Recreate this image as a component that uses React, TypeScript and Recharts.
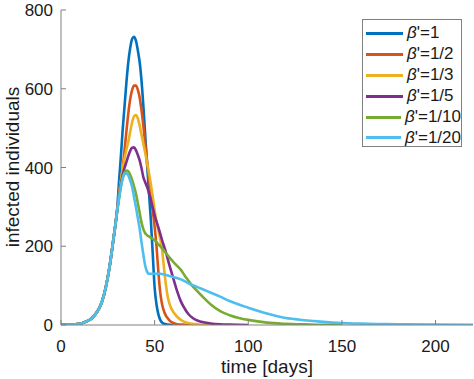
import { LineChart, Line, XAxis, YAxis, Label } from "recharts";

type Pt = [number, number];

// shared early growth (all runs identical until ~day 30)
const rise: Pt[] = [
  [0, 0], [4, 1], [8, 2], [10, 3], [12, 6], [14, 10], [16, 15], [18, 25],
  [20, 39], [22, 61], [24, 98], [26, 150], [28, 218], [29, 253],
];

const beta1: Pt[] = [
  [30, 295], [31, 365], [32, 430], [33, 500], [34, 560], [35, 620], [36, 670], [37, 705],
  [38, 727], [39, 732], [40, 722], [41, 698], [42, 668], [43, 620], [44, 555], [45, 480],
  [46, 405], [47, 335], [48, 265], [49, 180], [50, 95], [51, 52], [52, 27], [53, 13],
  [54, 6], [55, 3], [57, 1], [60, 0],
];
const beta2: Pt[] = [
  [30, 292], [31, 330], [32, 362], [33, 400], [34, 448], [35, 495], [36, 540], [37, 575],
  [38, 597], [39, 608], [40, 608], [41, 598], [42, 578], [43, 545], [44, 505], [45, 460],
  [46, 415], [47, 372], [48, 330], [49, 290], [50, 250], [51, 200], [52, 135], [53, 82],
  [54, 52], [55, 35], [56, 24], [57, 17], [58, 11], [60, 5], [62, 2], [65, 1], [70, 0],
];
const beta3: Pt[] = [
  [30, 291], [31, 333], [32, 368], [33, 400], [34, 425], [35, 447], [36, 467], [37, 492],
  [38, 515], [39, 530], [40, 533], [41, 525], [42, 507], [43, 483], [44, 460], [45, 436],
  [46, 411], [47, 385], [48, 357], [49, 325], [50, 292], [51, 262], [52, 240], [53, 218],
  [54, 190], [55, 145], [56, 103], [57, 72], [58, 53], [59, 41], [60, 33], [62, 21],
  [64, 13], [66, 8], [70, 3], [75, 1], [80, 0],
];
const beta5: Pt[] = [
  [30, 290], [31, 328], [32, 358], [33, 383], [34, 400], [35, 415], [36, 430], [37, 443],
  [38, 450], [39, 451], [40, 444], [41, 432], [42, 418], [43, 398], [44, 375], [45, 362],
  [46, 350], [47, 335], [48, 318], [49, 298], [50, 278], [52, 248], [54, 215], [56, 185],
  [58, 150], [60, 118], [62, 86], [64, 60], [66, 42], [68, 28], [70, 19], [72, 13],
  [75, 8], [80, 4], [85, 2], [90, 1], [100, 0],
];
const beta10: Pt[] = [
  [30, 290], [31, 322], [32, 352], [33, 375], [34, 388], [35, 392], [36, 390], [37, 381],
  [38, 368], [39, 352], [40, 334], [41, 310], [42, 285], [43, 260], [44, 243], [45, 233],
  [46, 228], [48, 222], [50, 215], [52, 205], [54, 195], [56, 183], [58, 171], [60, 160],
  [62, 150], [64, 140], [66, 126], [68, 113], [70, 100], [72, 90], [75, 75], [80, 52],
  [85, 35], [90, 25], [95, 18], [100, 13], [110, 6], [120, 3], [130, 1.5], [140, 0.5], [150, 0],
];
const beta20: Pt[] = [
  [30, 290], [31, 322], [32, 352], [33, 373], [34, 384], [35, 385], [36, 379], [37, 366],
  [38, 350], [39, 325], [40, 300], [41, 272], [42, 245], [43, 210], [44, 178], [45, 150],
  [46, 135], [47, 130], [50, 130], [53, 130], [56, 127], [60, 122], [64, 116], [68, 106],
  [72, 98], [76, 90], [80, 82], [85, 72], [90, 61], [95, 52], [100, 44], [105, 36],
  [110, 29], [115, 23], [120, 18], [125, 15], [130, 12], [135, 10], [140, 8], [150, 5],
  [160, 3.5], [170, 2.5], [180, 2], [200, 1], [220, 0.5],
];

const names = ["1", "1/2", "1/3", "1/5", "1/10", "1/20"];
const colors = ["#0072BD", "#D95319", "#EDB120", "#7E2F8E", "#77AC30", "#4DBEEE"];
const tails = [beta1, beta2, beta3, beta5, beta10, beta20];

const xTicks = [0, 50, 100, 150, 200];
const yTicks = [0, 200, 400, 600, 800];

const series = tails.map((tail, i) => ({
  name: names[i],
  color: colors[i],
  data: rise.concat(tail).map(([t, v]) => ({ t, v })),
}));

const FONT = "'Liberation Sans', Arial, Helvetica, sans-serif";
const AXIS = "#808080";
const TEXT = "#1a1a1a";

const BottomTick = (p: any) => (
  <g>
    <line x1={p.x} y1={p.y} x2={p.x} y2={p.y - 5} stroke={AXIS} />
    <text x={p.x} y={p.y + 27} textAnchor="middle" fontSize={17} fontFamily={FONT} fill={TEXT}>
      {p.payload.value}
    </text>
  </g>
);
const LeftTick = (p: any) => (
  <g>
    <line x1={p.x} y1={p.y} x2={p.x + 5} y2={p.y} stroke={AXIS} />
    <text x={p.x - 8} y={p.y} dy="0.36em" textAnchor="end" fontSize={17} fontFamily={FONT} fill={TEXT}>
      {p.payload.value}
    </text>
  </g>
);
const TopTick = (p: any) => <line x1={p.x} y1={p.y} x2={p.x} y2={p.y + 5} stroke={AXIS} />;
const RightTick = (p: any) => <line x1={p.x} y1={p.y} x2={p.x - 5} y2={p.y} stroke={AXIS} />;

export default function App() {
  return (
    <div style={{ position: "absolute", left: 0, top: 0, width: 474, height: 379, background: "#fff" }}>
      <style>{"body{margin:0}"}</style>
      <LineChart width={474} height={379} margin={{ top: 10, right: 1, bottom: 0, left: 0 }}>
        <XAxis
          dataKey="t"
          type="number"
          domain={[0, 220]}
          ticks={xTicks}
          allowDataOverflow
          height={54}
          stroke={AXIS}
          tickLine={false}
          tickSize={0}
          tickMargin={0}
          tick={<BottomTick />}
          interval={0}
        >
          <Label
            content={(props: any) => (
              <text x={267} y={373} textAnchor="middle" fontSize={19} fontFamily={FONT} fill={TEXT}>
                time [days]
              </text>
            )}
          />
        </XAxis>
        <XAxis
          xAxisId="top"
          orientation="top"
          dataKey="t"
          type="number"
          domain={[0, 220]}
          ticks={xTicks}
          height={0}
          stroke={AXIS}
          tickLine={false}
          tickSize={0}
          tickMargin={0}
          tick={<TopTick />}
          interval={0}
        />
        <YAxis
          type="number"
          domain={[0, 800]}
          ticks={yTicks}
          allowDataOverflow
          width={61}
          stroke={AXIS}
          tickLine={false}
          tickSize={0}
          tickMargin={0}
          tick={<LeftTick />}
          interval={0}
        >
          <Label
            content={(props: any) => (
              <text
                x={12}
                y={167}
                transform="rotate(-90 12 167)"
                dy="0.36em"
                textAnchor="middle"
                fontSize={19}
                fontFamily={FONT}
                fill={TEXT}
              >
                infected individuals
              </text>
            )}
          />
        </YAxis>
        <YAxis
          yAxisId="right"
          orientation="right"
          type="number"
          domain={[0, 800]}
          ticks={yTicks}
          width={0}
          stroke={AXIS}
          tickLine={false}
          tickSize={0}
          tickMargin={0}
          tick={<RightTick />}
          interval={0}
        />
        {series.map((s) => (
          <Line
            key={s.name}
            data={s.data}
            dataKey="v"
            type="monotone"
            stroke={s.color}
            strokeWidth={2.6}
            dot={false}
            isAnimationActive={false}
          />
        ))}
      </LineChart>
      <div
        style={{
          position: "absolute",
          left: 362,
          top: 19,
          width: 100,
          height: 128,
          border: `1px solid ${AXIS}`,
          background: "#fff",
          boxSizing: "border-box",
          paddingTop: 3,
          fontFamily: FONT,
          fontSize: 17,
          color: TEXT,
        }}
      >
        {series.map((s) => (
          <div key={s.name} style={{ display: "flex", alignItems: "center", height: 20.9 }}>
            <div style={{ marginLeft: 3, width: 37, height: 3, background: s.color }} />
            <div style={{ marginLeft: 4, whiteSpace: "nowrap", lineHeight: "20px" }}>
              <i>β</i>'={s.name}
            </div>
          </div>
        ))}
      </div>
    </div>
  );
}
